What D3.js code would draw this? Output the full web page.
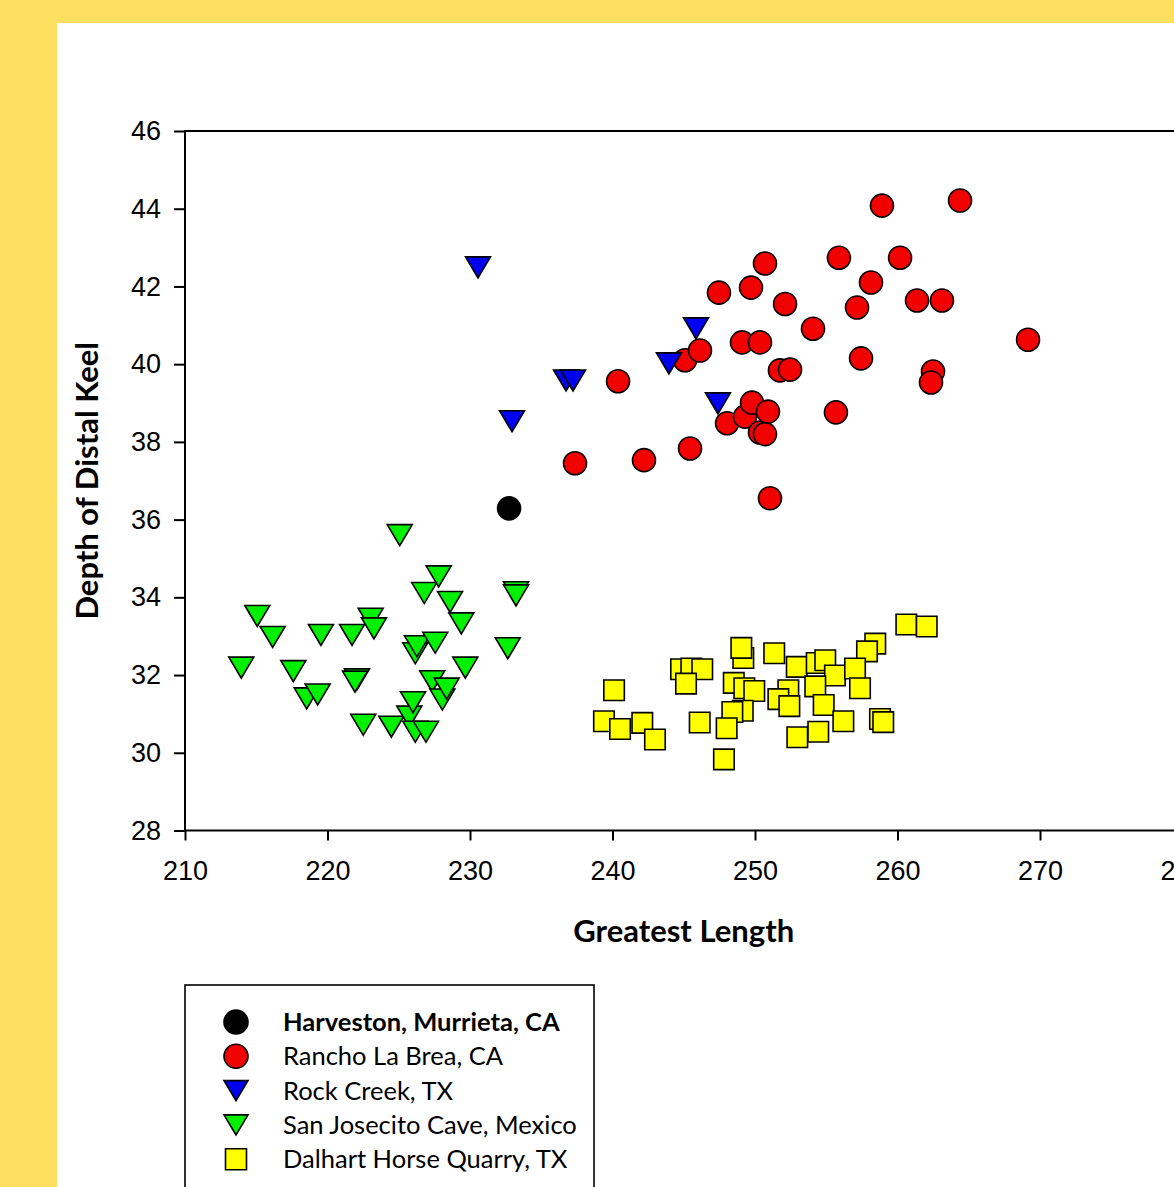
<!DOCTYPE html>
<html>
<head>
<meta charset="utf-8">
<script src="https://cdn.jsdelivr.net/npm/d3@7"></script>
<style>
  html, body { margin: 0; padding: 0; background: #FFDF60; }
  #canvas { display: block; }
  .tick text { font-family: "Liberation Sans", Arial, sans-serif; font-size: 27px; fill: #000; }
  .title { font-family: Lato, "Open Sans", sans-serif; font-weight: bold; font-size: 31px; }
  .legend text { font-family: Lato, "Open Sans", sans-serif; font-size: 25.5px; }
</style>
</head>
<body>
<svg id="canvas" width="1174" height="1187"></svg>
<script>
// Harveston, Murrieta, CA
const harvestonX = [232.74];
const harvestonY = [36.29];

// Rancho La Brea, CA
const rlbX = [237.37, 240.39, 242.21, 245.09, 246.14, 245.44, 247.47, 248.04, 249.09, 249.30,
              249.72, 249.79, 250.35, 250.70, 250.35, 250.70, 250.91, 251.05, 251.75, 252.46,
              252.11, 254.07, 255.68, 255.89, 257.16, 257.44, 258.14, 258.91, 260.18, 261.37,
              263.12, 262.49, 262.35, 264.39, 269.16];
const rlbY = [37.45, 39.56, 37.53, 40.10, 40.35, 37.83, 41.84, 38.48, 40.56, 38.65,
              41.97, 39.01, 40.56, 42.59, 38.24, 38.20, 38.78, 36.55, 39.84, 39.86,
              41.55, 40.91, 38.76, 42.74, 41.46, 40.15, 42.10, 44.08, 42.74, 41.64,
              41.64, 39.81, 39.53, 44.21, 40.63];

// Rock Creek, TX
const rockX = [230.56, 232.95, 236.74, 237.23, 243.96, 245.86, 247.40];
const rockY = [42.49, 38.53, 39.58, 39.58, 40.02, 40.92, 38.99];

// San Josecito Cave, Mexico
const sjcX = [213.95, 215.07, 216.15, 217.60, 218.54, 219.31, 219.54, 221.72, 222.07, 221.93,
              222.51, 223.03, 223.26, 224.48, 225.07, 225.74, 226.00, 226.16, 226.16, 226.28,
              226.79, 226.91, 227.35, 227.56, 227.80, 228.06, 228.36, 228.60, 229.39, 229.67,
              232.65, 233.23, 233.23];
const sjcY = [32.19, 33.52, 32.98, 32.10, 31.40, 31.50, 33.03, 33.03, 31.89, 31.83,
              30.72, 33.45, 33.20, 30.67, 35.60, 30.93, 31.30, 30.54, 32.56, 32.74,
              34.11, 30.54, 31.84, 32.83, 34.54, 31.37, 31.65, 33.88, 33.33, 32.19,
              32.69, 34.13, 34.05];

// Dalhart Horse Quarry, TX
const dhqX = [260.62, 262.05, 258.44, 257.86, 251.35, 249.18, 249.04, 244.81, 245.53, 246.30,
              245.16, 240.11, 248.51, 249.25, 249.95, 252.93, 254.33, 254.93, 255.61, 257.02,
              254.23, 257.37, 252.34, 251.64, 252.41, 249.14, 248.41, 254.82, 239.40, 240.53,
              242.09, 242.98, 246.12, 248.01, 256.20, 258.77, 259.00, 252.97, 254.44, 247.82];
const dhqY = [33.30, 33.25, 32.81, 32.61, 32.56, 32.44, 32.70, 32.15, 32.17, 32.15,
              31.78, 31.61, 31.80, 31.66, 31.59, 32.21, 32.31, 32.38, 31.99, 32.17,
              31.71, 31.66, 31.61, 31.38, 31.20, 31.08, 31.05, 31.23, 30.81, 30.61,
              30.77, 30.34, 30.78, 30.63, 30.81, 30.87, 30.79, 30.40, 30.54, 29.83];

const xTicks = [210, 220, 230, 240, 250, 260, 270, 280];
const yTicks = [28, 30, 32, 34, 36, 38, 40, 42, 44, 46];

const series = [
    { name: "Harveston, Murrieta, CA", xs: harvestonX, ys: harvestonY, shape: "circle", color: "#000000", bold: true },
    { name: "Rancho La Brea, CA", xs: rlbX, ys: rlbY, shape: "circle", color: "#F20000" },
    { name: "Rock Creek, TX", xs: rockX, ys: rockY, shape: "triangle", color: "#0000F0" },
    { name: "San Josecito Cave, Mexico", xs: sjcX, ys: sjcY, shape: "triangle", color: "#00F000" },
    { name: "Dalhart Horse Quarry, TX", xs: dhqX, ys: dhqY, shape: "square", color: "#FFFF00" }
];

const svg = d3.select("#canvas");

// white panel over the yellow page
svg.append("rect")
    .attr("x", 57).attr("y", 23)
    .attr("width", 1174 - 57).attr("height", 1187 - 23)
    .attr("fill", "#fff");

const x = d3.scaleLinear().domain([210, 280]).range([185, 1182.5]);
const y = d3.scaleLinear().domain([28, 46]).range([830.5, 131]);

// frame
svg.append("path")
    .attr("d", `M${x(280)},${y(46)}H${x(210)}V${y(28)}H${x(280)}Z`)
    .attr("fill", "none")
    .attr("stroke", "#000")
    .attr("stroke-width", 2);

const xAxis = svg.append("g")
    .attr("transform", `translate(0,${y(28)})`)
    .call(d3.axisBottom(x).tickValues(xTicks).tickSize(10).tickSizeOuter(0).tickPadding(20));

const yAxis = svg.append("g")
    .attr("transform", `translate(${x(210)},0)`)
    .call(d3.axisLeft(y).tickValues(yTicks).tickSize(11).tickSizeOuter(0).tickPadding(13));

[xAxis, yAxis].forEach(g => {
    g.select(".domain").remove();
    g.selectAll(".tick line").attr("stroke", "#000").attr("stroke-width", 2);
    g.attr("font-family", null).attr("font-size", null);
});
xAxis.selectAll(".tick text").attr("dy", "0.71em");

// axis titles
svg.append("text")
    .attr("class", "title")
    .attr("x", (x(210) + x(280)) / 2)
    .attr("y", 942)
    .attr("text-anchor", "middle")
    .text("Greatest Length");

svg.append("text")
    .attr("class", "title")
    .attr("transform", `translate(98,${(y(28) + y(46)) / 2}) rotate(-90)`)
    .attr("text-anchor", "middle")
    .text("Depth of Distal Keel");

function symbolPath(shape) {
    if (shape === "circle") return d3.symbol(d3.symbolCircle, Math.PI * 11.5 * 11.5)();
    if (shape === "square") return d3.symbol(d3.symbolSquare, 20.5 * 20.5)();
    // downward triangle, 25 wide x 21 tall, centred on its box
    return "M-12.5,-10.5L12.5,-10.5L0,10.5Z";
}

const plot = svg.append("g");

series.forEach(s => {
    const pts = s.xs.map((v, i) => [v, s.ys[i]]);
    plot.append("g")
        .selectAll("path")
        .data(pts)
        .enter()
        .append("path")
        .attr("d", symbolPath(s.shape))
        .attr("transform", d => `translate(${x(d[0])},${y(d[1])})`)
        .attr("fill", s.color)
        .attr("stroke", "#000")
        .attr("stroke-width", 1.6);
});

// legend
const legend = svg.append("g").attr("class", "legend");
legend.append("rect")
    .attr("x", 185).attr("y", 985)
    .attr("width", 409).attr("height", 260)
    .attr("fill", "#fff")
    .attr("stroke", "#000")
    .attr("stroke-width", 1.6);

const row = legend.selectAll("g.row")
    .data(series)
    .enter()
    .append("g")
    .attr("class", "row")
    .attr("transform", (d, i) => `translate(236,${1022 + i * 34.3})`);

row.append("path")
    .attr("d", d => d.shape === "circle" ? d3.symbol(d3.symbolCircle, Math.PI * 12 * 12)()
        : d.shape === "square" ? d3.symbol(d3.symbolSquare, 21 * 21)()
        : "M-12,-10L12,-10L0,10Z")
    .attr("fill", d => d.color)
    .attr("stroke", "#000")
    .attr("stroke-width", 1.6);

row.append("text")
    .attr("x", 47)
    .attr("y", 9)
    .attr("font-weight", d => d.bold ? "bold" : null)
    .text(d => d.name);
</script>
</body>
</html>
